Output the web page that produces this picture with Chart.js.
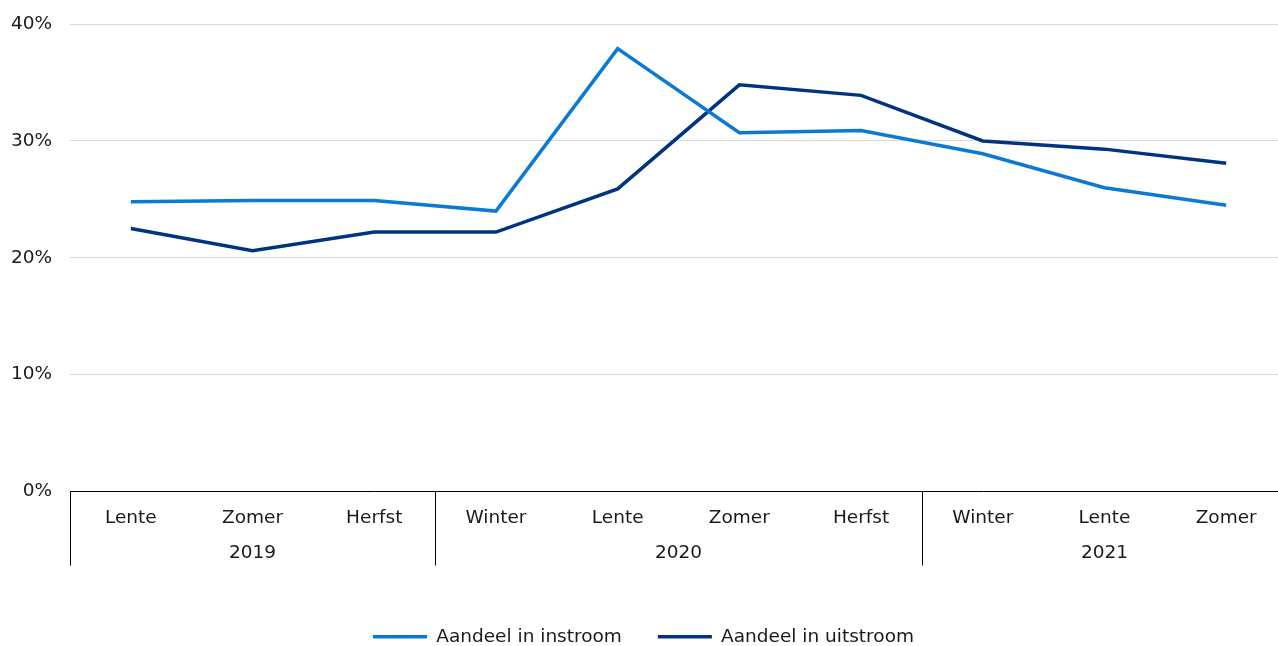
<!DOCTYPE html>
<html>
<head>
<meta charset="utf-8">
<script src="https://cdn.jsdelivr.net/npm/chart.js@4/dist/chart.umd.min.js"></script>
<style>
    html, body { margin: 0; padding: 0; background: #fff; overflow: hidden; }
    /* the plot runs a little past the right edge, as in the original */
    #wrap { position: relative; width: 1278px; height: 646px; overflow: hidden; }
    #shareChart { position: absolute; left: 0; top: -5px; }
</style>
</head>
<body>
<div id="wrap"><canvas id="shareChart" width="1287" height="651"></canvas></div>
<script>
// Data
const seasons = ['Lente', 'Zomer', 'Herfst', 'Winter', 'Lente', 'Zomer', 'Herfst', 'Winter', 'Lente', 'Zomer'];
const years = ['2019', '2020', '2021'];
const yearSizes = [3, 4, 3]; // number of seasons per year
const instroom = [24.8, 24.9, 24.9, 24.0, 37.9, 30.7, 30.9, 28.9, 26.0, 24.5];
const uitstroom = [22.5, 20.6, 22.2, 22.2, 25.9, 34.8, 33.9, 30.0, 29.3, 28.1];
const yTicks = [0, 10, 20, 30, 40];

const FONT = 'Verdana, "DejaVu Sans", sans-serif';
const TEXT = '#1a1a1a';

// Draws the year row and the group separators under the x axis
const yearAxis = {
    id: 'yearAxis',
    afterDraw(chart) {
        const x = chart.scales.x;
        const ctx = chart.ctx;
        const top = chart.chartArea.bottom;
        const step = x.getPixelForValue(1) - x.getPixelForValue(0);
        ctx.save();
        ctx.strokeStyle = '#000';
        ctx.lineWidth = 1;
        ctx.fillStyle = TEXT;
        ctx.font = '18.5px ' + FONT;
        ctx.textAlign = 'center';
        ctx.textBaseline = 'middle';
        let start = 0;
        years.forEach((yr, i) => {
            const end = start + yearSizes[i] - 1;
            // separator at the left of the group
            const sx = Math.round(x.getPixelForValue(start) - step / 2) + 0.5;
            ctx.beginPath();
            ctx.moveTo(sx, top);
            ctx.lineTo(sx, top + 74);
            ctx.stroke();
            const cx = (x.getPixelForValue(start) + x.getPixelForValue(end)) / 2;
            ctx.fillText(yr, cx, top + 62);
            start = end + 1;
        });
        ctx.restore();
    }
};

const ctx = document.getElementById('shareChart').getContext('2d');
new Chart(ctx, {
    type: 'line',
    data: {
        labels: seasons,
        datasets: [{
            label: 'Aandeel in instroom',
            data: instroom,
            borderColor: '#0a7ad4',
            backgroundColor: '#0a7ad4',
            borderWidth: 3.5,
            pointRadius: 0,
            tension: 0
        }, {
            label: 'Aandeel in uitstroom',
            data: uitstroom,
            borderColor: '#00347f',
            backgroundColor: '#00347f',
            borderWidth: 3.5,
            pointRadius: 0,
            tension: 0
        }]
    },
    options: {
        responsive: false,
        animation: false,
        layout: { padding: { top: 19, right: 0, left: 0, bottom: -10 } },
        plugins: {
            tooltip: { enabled: false },
            legend: {
                position: 'bottom',
                labels: {
                    color: TEXT,
                    font: { family: FONT, size: 18.5 },
                    usePointStyle: true,
                    pointStyle: 'line',
                    pointStyleWidth: 54,
                    padding: 36
                }
            }
        },
        scales: {
            x: {
                offset: true,
                grid: { display: false },
                border: { display: true, color: '#000', width: 1 },
                ticks: {
                    color: TEXT,
                    font: { family: FONT, size: 18.5 },
                    padding: 8,
                    maxRotation: 0,
                    autoSkip: false
                },
                afterFit: function (scale) { scale.height = 100; }
            },
            y: {
                min: 0,
                max: 40,
                afterBuildTicks: function (scale) {
                    scale.ticks = yTicks.map(v => ({ value: v }));
                },
                grid: { color: '#d9d9d9', lineWidth: 1, drawTicks: false },
                border: { display: false },
                ticks: {
                    color: TEXT,
                    font: { family: FONT, size: 18.5 },
                    padding: 18,
                    callback: v => v + '%'
                },
                afterFit: function (scale) { scale.width = 70; }
            }
        }
    },
    plugins: [yearAxis]
});
</script>
</body>
</html>
